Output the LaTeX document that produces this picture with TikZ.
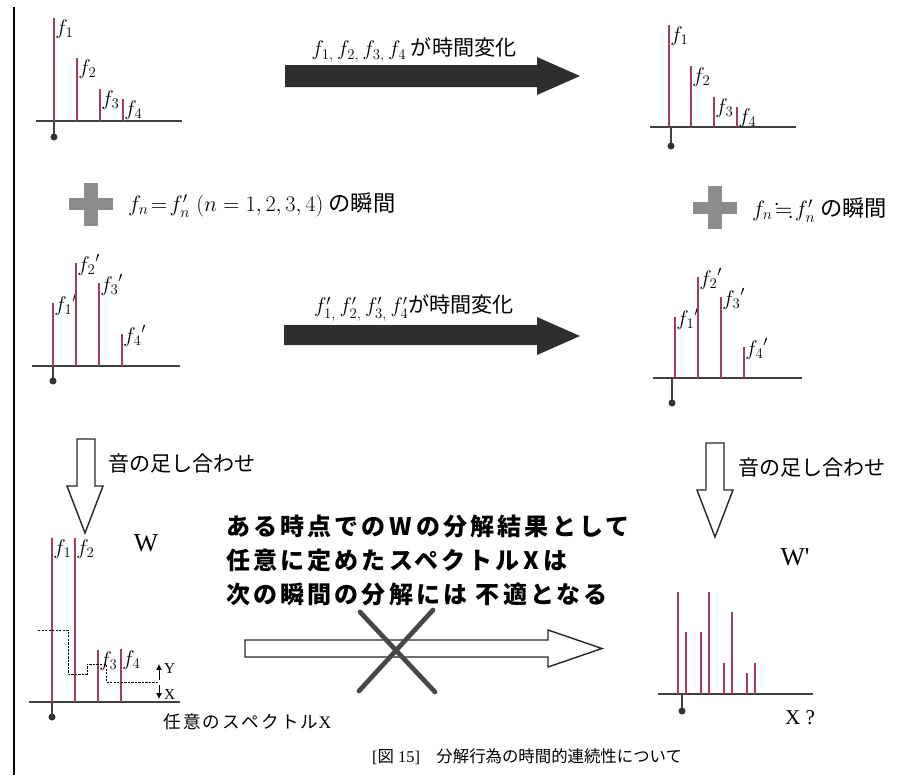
\RequirePackage{fix-cm}
\documentclass[tikz,border=0pt]{standalone}
\usepackage{amsmath,amssymb}
\usepackage{fontspec}
\setmainfont{Liberation Serif}
\newfontfamily\jp{Noto Sans CJK JP}
\newfontfamily\jpsp{Noto Sans CJK JP}[LetterSpace=13]
\usetikzlibrary{arrows.meta,positioning}
\definecolor{specred}{RGB}{165,60,90}

\begin{document}
\begin{tikzpicture}[x=0.03cm, y=-0.03cm,
    spec/.style={draw=specred, line width=0.9pt},
    axisline/.style={draw=black!75, line width=1pt},
    fl/.style={inner sep=1pt, font=\fontsize{18}{18}\selectfont},
    darrow/.style={fill=black!82},
    harrow/.style={draw=black!85, fill=white, line width=1.2pt},
    plussign/.style={fill=black!45},
    jplabel/.style={inner sep=0pt, font=\jp\fontsize{18}{20}\selectfont},
    dot/.style={fill=black!80}
]
\useasboundingbox (0,0) rectangle (915,775);

% Page margin line
\draw[line width=1.2pt] (14,7) -- (14,775);

% Spectrum f1..f4 (top left)
\draw[axisline] (36,121) -- (182,121);
\foreach \x/\t/\n in {54/18/1, 77/58/2, 100/89/3, 123/99/4} {
  \draw[spec] (\x,121) -- (\x,\t);
  \node[fl, anchor=north west] (tl\n) at (\x,\t) {$f_\n$};
}
\draw[axisline] (54,121) -- (54,137);
\fill[dot] (54,137) circle[radius=3pt];

% Spectrum f1..f4 (top right)
\draw[axisline] (650,127) -- (796,127);
\foreach \x/\t/\n in {669/25/1, 691/66/2, 714/97/3, 737/107/4} {
  \draw[spec] (\x,127) -- (\x,\t);
  \node[fl, anchor=north west] (tr\n) at (\x,\t) {$f_\n$};
}
\draw[axisline] (671,127) -- (671,146);
\fill[dot] (671,146) circle[radius=3pt];

% Time change arrows
\fill[darrow] (285,65) -- (537,65) -- (537,57) -- (580,76) -- (537,95) -- (537,87) -- (285,87) -- cycle;
\node[jplabel] (lab1) at (414,50) {$f_{1,}\,f_{2,}\,f_{3,}\,f_4$\ が時間変化};
\fill[darrow] (284,325) -- (537,325) -- (537,317) -- (580,336) -- (537,355) -- (537,345) -- (284,345) -- cycle;
\node[jplabel] (lab2) at (414,308) {$f'_{1,}\,f'_{2,}\,f'_{3,}\,f'_4$が時間変化};

% Plus signs
\fill[plussign] (69,198) rectangle (113,210);
\fill[plussign] (84,183) rectangle (98,226);
\node[jplabel, anchor=west, font=\jp\fontsize{19}{20}\selectfont] (eq1) at (128,205)
  {$f_n\!=\!f'_n\;(n=1,2,3,4)$ の瞬間};
\fill[plussign] (693,202) rectangle (737,214);
\fill[plussign] (708,186) rectangle (722,229);
\node[jplabel, anchor=west, font=\jp\fontsize{19}{20}\selectfont] (eq2) at (752,210)
  {$f_n\!\fallingdotseq\! f'_n$ の瞬間};

% Spectrum f'1..f'4 (middle left)
\draw[axisline] (32,366) -- (180,366);
\foreach \x/\t/\n in {53/303/1, 76/263/2, 99/283/3, 122/334/4} {
  \draw[spec] (\x,366) -- (\x,\t);
  \node[fl, anchor=west] (ml\n) at (\x,\t+2) {${f_\n}'$};
}
\draw[axisline] (53,366) -- (53,381);
\fill[dot] (53,381) circle[radius=3pt];

% Spectrum f'1..f'4 (middle right)
\draw[axisline] (653,378) -- (802,378);
\foreach \x/\t/\n in {675/317/1, 698/277/2, 721/297/3, 744/347/4} {
  \draw[spec] (\x,378) -- (\x,\t);
  \node[fl, anchor=west] (mr\n) at (\x,\t+2) {${f_\n}'$};
}
\draw[axisline] (672,378) -- (672,403);
\fill[dot] (672,403) circle[radius=3pt];

% Sum arrows
\draw[harrow] (77,439) -- (95,439) -- (95,486) -- (103,486) -- (85,533) -- (67,486) -- (77,486) -- cycle;
\node[jplabel, anchor=west] (sum1) at (108,463) {音の足し合わせ};
\draw[harrow] (706,443) -- (724,443) -- (724,490) -- (733,490) -- (715,537) -- (697,490) -- (706,490) -- cycle;
\node[jplabel, anchor=west] (sum2) at (738,467) {音の足し合わせ};

% Spectrum W (bottom left)
\draw[axisline] (29,702) -- (180,702);
\foreach \x/\t/\n in {52/538/1, 75/538/2, 98/650/3, 121/649/4} {
  \draw[spec] (\x,702) -- (\x,\t);
  \node[fl, anchor=north west] (wl\n) at (\x,\t) {$f_\n$};
}
\draw[axisline] (52,702) -- (52,717);
\fill[dot] (52,717) circle[radius=3pt];
\node[font=\fontsize{22}{22}\selectfont] (W) at (146,543) {W};
\draw[dash pattern=on 2pt off 1pt, line width=0.8pt] (38,630) -| (68,674) -| (87,664) -| (106,682) -- (158,682);
\draw[-{Latex[length=5pt,width=5pt]}, line width=0.7pt] (159,680) -- (159,664);
\draw[-{Latex[length=5pt,width=5pt]}, line width=0.7pt] (159,685) -- (159,699);
\node[anchor=west, inner sep=0pt, font=\fontsize{13}{13}\selectfont] (Ylab) at (164,669) {Y};
\node[anchor=west, inner sep=0pt, font=\fontsize{13}{13}\selectfont] (Xlab) at (164,695) {X};
\node[anchor=west, inner sep=0pt, font=\fontsize{15}{15}\selectfont] (anyX) at (163,722) {{\jpsp 任意のスペクトル}X};

% Statement and crossed arrow
\node[anchor=north west, inner sep=0pt, align=left, font=\jpsp\bfseries\fontsize{20.5}{29}\selectfont] (stmt) at (226,515)
  {ある時点での\,W\,の分解結果として\\任意に定めたスペクトル\,X\,は\\次の瞬間の分解には 不適となる};
\draw[harrow] (245,640) -- (548,640) -- (548,630) -- (602,648.5) -- (548,667) -- (548,657) -- (245,657) -- cycle;
\draw[line width=4pt, draw=black!72, line cap=round] (360,612) -- (435,692);
\draw[line width=4pt, draw=black!72, line cap=round] (433,610) -- (359,691);

% Spectrum W' (bottom right)
\draw[axisline] (658,694) -- (813,694);
\foreach \x/\t in {678/592, 686/632, 701/632, 709/592, 724/663, 732/612, 747/673, 755/663} {
  \draw[spec] (\x,694) -- (\x,\t);
}
\draw[axisline] (682,694) -- (682,711);
\fill[dot] (682,711) circle[radius=3pt];
\node[font=\fontsize{22}{22}\selectfont] (Wp) at (795,557) {W\textquotesingle};
\node[font=\fontsize{18}{18}\selectfont] (Xq) at (800,718) {X ?};

% Caption
\node[anchor=west, inner sep=0pt, font=\fontsize{14}{14}\selectfont] (cap) at (372,757)
  {[{\jp 図} 15]\quad{\jp 分解行為の時間的連続性について}};

\end{tikzpicture}
\end{document}
